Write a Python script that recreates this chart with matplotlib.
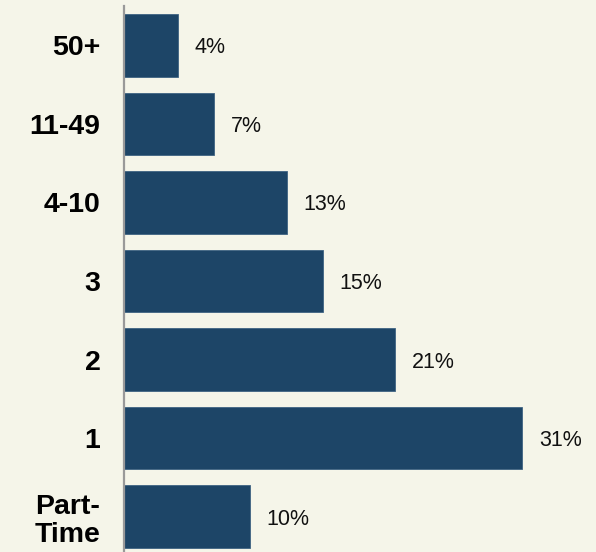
import numpy as np
from matplotlib import pyplot as plt

categories = ['50+', '11-49', '4-10', '3', '2', '1', 'Part-\nTime']
shares = [4.2, 7.0, 12.7, 15.5, 21.1, 31.0, 9.8]
value_labels = ['4%', '7%', '13%', '15%', '21%', '31%', '10%']

bg = '#f5f5e9'
bar_color = '#1d4567'

plt.rc('font', family=['Liberation Sans', 'DejaVu Sans'])

fig = plt.figure(figsize=(5.96, 5.52), dpi=100, facecolor=bg)
ax = fig.add_axes([124 / 596, 0, 1 - 124 / 596, 546 / 552])
ax.set_facecolor(bg)

pos = np.arange(len(categories))
ax.barh(pos, shares, height=0.8, color=bar_color, edgecolor='#3f6383', linewidth=0.6)

for p, v, lab in zip(pos, shares, value_labels):
    ax.annotate(lab, xy=(v, p), xytext=(12, 0), textcoords='offset points',
                va='center_baseline', ha='left', fontsize=15.5, color='#111111')

ax.set_xlim(0, 472 / 12.85)
ax.set_ylim(6.452, -0.503)
ax.set_yticks(pos)
ax.set_yticklabels(categories, fontsize=20.5, fontweight='bold',
                   multialignment='right', linespacing=1.1)
ax.tick_params(axis='y', length=0, pad=17)
ax.set_xticks([])

for s in ['top', 'right', 'bottom']:
    ax.spines[s].set_visible(False)
ax.spines['left'].set_color('#999999')
ax.spines['left'].set_linewidth(1.6)

plt.savefig('out.png', dpi=100, facecolor=bg)
